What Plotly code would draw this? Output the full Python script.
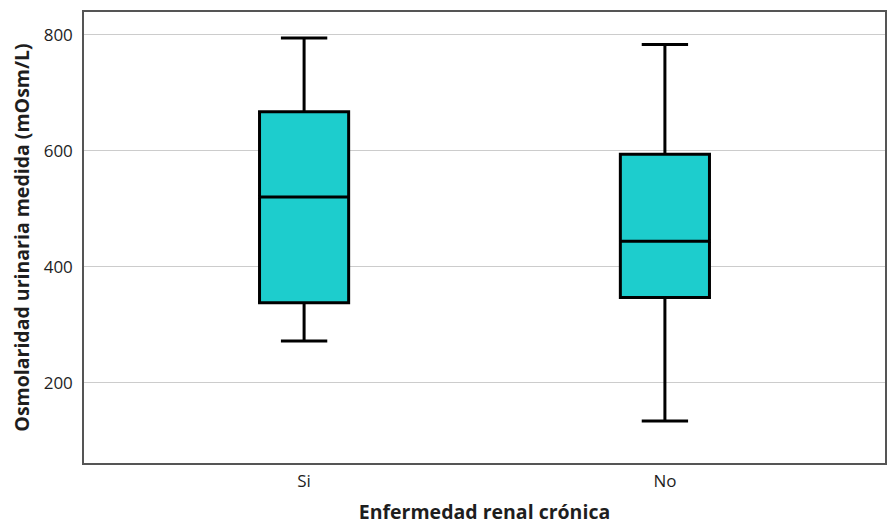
import plotly.graph_objects as go

# Summary statistics of measured urine osmolarity by chronic kidney disease status
categories = ["Si", "No"]
lower_whisker = [272, 134]
q1_values = [338, 347]
medians = [520, 444]
q3_values = [667, 594]
upper_whisker = [794, 783]

y_ticks = [200, 400, 600, 800]

fill_color = "#1DCDCD"
font_family = "Open Sans, DejaVu Sans, sans-serif"
text_color = "#1E1E1E"

fig = go.Figure()
fig.add_trace(go.Box(
    x=categories,
    q1=q1_values,
    median=medians,
    q3=q3_values,
    lowerfence=lower_whisker,
    upperfence=upper_whisker,
    fillcolor=fill_color,
    line=dict(color="black", width=3),
    width=0.247,
    whiskerwidth=0.52,
    boxpoints=False,
    hoverinfo="skip",
    showlegend=False,
))

fig.update_layout(
    width=890,
    height=525,
    margin=dict(l=84, r=5, t=12, b=62),
    paper_bgcolor="white",
    plot_bgcolor="white",
    font=dict(family=font_family, size=17, color=text_color),
    xaxis=dict(
        type="category",
        categoryorder="array",
        categoryarray=categories,
        range=[-0.61, 1.61],
        automargin=False,
        showgrid=False,
        showline=True,
        linecolor="#555555",
        linewidth=1.5,
        mirror=True,
        ticks="",
        ticklabelstandoff=2,
        tickfont=dict(size=17, color=text_color),
        title=dict(
            text="<b>Enfermedad renal crónica</b>",
            font=dict(size=19.5, color=text_color),
            standoff=14,
        ),
    ),
    yaxis=dict(
        range=[61.6, 839],
        tickvals=y_ticks,
        ticktext=[str(v) for v in y_ticks],
        automargin=False,
        showgrid=True,
        gridcolor="#CCCCCC",
        gridwidth=1,
        zeroline=False,
        showline=True,
        linecolor="#555555",
        linewidth=1.5,
        mirror=True,
        ticks="",
        ticklabelstandoff=6,
        tickfont=dict(size=17, color=text_color),
        title=dict(
            text="<b>Osmolaridad urinaria medida (mOsm/L)</b>",
            font=dict(size=19.5, color=text_color),
            standoff=9,
        ),
    ),
)

fig.write_html("out.html")
